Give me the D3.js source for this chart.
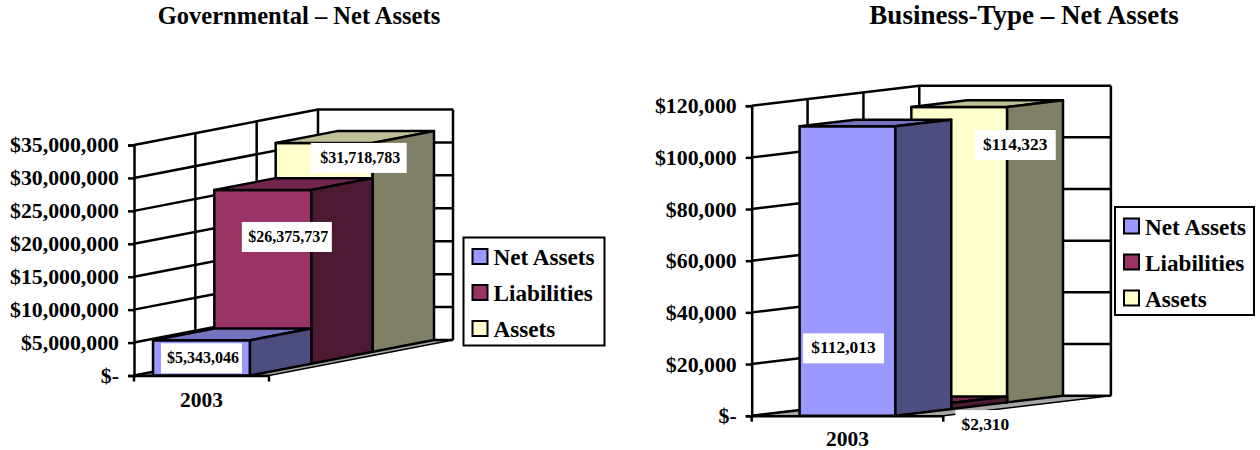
<!DOCTYPE html>
<html lang="en">
<head>
    <meta charset="UTF-8">
    <title>Net Assets</title>
    <script src="https://d3js.org/d3.v7.min.js"></script>
    <style>
        html, body { margin: 0; padding: 0; background: #fff; }
        svg { display: block; }
        text { font-family: "Liberation Serif", serif; font-weight: bold; fill: #000; }
    </style>
</head>
<body>
    <div class="chart-container"></div>
</body>
<script>
    const categories = ['2003']
    const seriesNames = ['Net Assets', 'Liabilities', 'Assets']
    const governmentalValues = [5343046, 26375737, 31718783]
    const businessValues = [112013, 2310, 114323]
    const governmentalTicks = [0, 5000000, 10000000, 15000000, 20000000, 25000000, 30000000, 35000000]
    const businessTicks = [0, 20000, 40000, 60000, 80000, 100000, 120000]

    const frontColors = ['#9999ff', '#993366', '#ffffcc']
    const topColors = ['#7373bf', '#73264d', '#bfbf99']
    const sideColors = ['#4d4d80', '#4d1a33', '#808066']

    const money = d => d === 0 ? '$-' : '$' + d3.format(',')(d)

    const svg = d3.select('.chart-container')
        .append('svg')
        .attr('width', 1260)
        .attr('height', 450)

    function poly(g, points, fill, width = 2.5) {
        g.append('path')
            .attr('d', d3.line()(points) + 'Z')
            .attr('fill', fill)
            .attr('stroke', '#000')
            .attr('stroke-width', width)
            .attr('stroke-linejoin', 'round')
    }

    function drawChart(c) {
        const g = svg.append('g')
        const y = d3.scaleLinear().domain(c.domain).range([c.y0, c.yTop])
        const x = d3.scaleBand().domain(categories).range([c.x0, c.x0 + c.plotW]).paddingInner(0).paddingOuter(c.pad)
        const depth = d3.scaleBand().domain(seriesNames).range([0, 1])
        // front plane (x, y) pushed back along the depth direction
        const at = (px, py, d) => [px + d * c.depthX, py - d * c.depthY]

        g.append('text')
            .attr('x', c.titleX).attr('y', 24)
            .attr('text-anchor', 'middle')
            .attr('font-size', c.titleSize)
            .text(c.title)

        const x1 = c.x0 + c.plotW
        // floor
        poly(g, [at(c.x0, c.y0, 0), at(x1, c.y0, 0), at(x1, c.y0, 1), at(c.x0, c.y0, 1)], '#a6a6a6', 1.5)

        // walls and grid lines
        c.ticks.forEach(t => {
            g.append('path')
                .attr('d', d3.line()([at(c.x0, y(t), 0), at(c.x0, y(t), 1), at(x1, y(t), 1)]))
                .attr('fill', 'none').attr('stroke', '#000').attr('stroke-width', 2.5)
        })
        ;[1 / 3, 2 / 3, 1].forEach(d => {
            g.append('path')
                .attr('d', d3.line()([at(c.x0, c.y0, d), at(c.x0, y(c.domain[1]), d)]))
                .attr('stroke', '#000').attr('stroke-width', 2.5)
        })
        g.append('path')
            .attr('d', d3.line()([at(x1, c.y0, 1), at(x1, y(c.domain[1]), 1)]))
            .attr('stroke', '#000').attr('stroke-width', 2.5)

        // bars, back to front
        const order = d3.range(seriesNames.length).reverse()
        order.forEach(i => {
            const d0 = depth(seriesNames[i])
            const d1 = d0 + depth.bandwidth()
            const left = x(categories[0])
            const right = left + x.bandwidth()
            const top = y(c.values[i])
            poly(g, [at(left, c.y0, d0), at(right, c.y0, d0), at(right, top, d0), at(left, top, d0)], frontColors[i])
            poly(g, [at(left, top, d0), at(right, top, d0), at(right, top, d1), at(left, top, d1)], topColors[i])
            poly(g, [at(right, c.y0, d0), at(right, c.y0, d1), at(right, top, d1), at(right, top, d0)], sideColors[i])
        })

        // value labels on white boxes, placed relative to each bar's top
        seriesNames.forEach((name, i) => {
            const d0 = depth(name)
            const [cx, cy] = at(x(categories[0]) + x.bandwidth() / 2, y(c.values[i]), d0)
            const lx = cx + c.labelOffsets[i][0]
            const ly = cy + c.labelOffsets[i][1]
            const w = c.labelWidths[i]
            g.append('rect')
                .attr('x', lx - w / 2).attr('y', ly - 15)
                .attr('width', w).attr('height', 30)
                .attr('fill', '#fff')
            g.append('text')
                .attr('x', lx + c.labelShift).attr('y', ly + 5)
                .attr('text-anchor', 'middle')
                .attr('font-size', c.labelSize)
                .text(money(c.values[i]))
        })

        // axes
        const axisLeft = d3.axisLeft(y).tickValues(c.ticks).tickFormat(money).tickSize(6).tickPadding(9)
        const yAxis = g.append('g').attr('transform', `translate(${c.x0},0)`).call(axisLeft)
        yAxis.selectAll('path,line').attr('stroke', '#000').attr('stroke-width', 2.5)
        yAxis.selectAll('text').attr('font-size', 21.8).attr('font-family', null).attr('fill', null)

        const axisBottom = d3.axisBottom(x).tickSize(0).tickPadding(c.xLabelPad)
        const xAxis = g.append('g').attr('transform', `translate(0,${c.y0})`).call(axisBottom)
        xAxis.select('.domain').attr('stroke', '#000').attr('stroke-width', 2.5)
        xAxis.selectAll('text').attr('font-size', 21.5).attr('font-family', null).attr('fill', null)
        x.range().forEach(px => {
            xAxis.append('line').attr('x1', px).attr('x2', px).attr('y1', 0).attr('y2', 6)
                .attr('stroke', '#000').attr('stroke-width', 2.5)
        })

        // legend
        const lg = g.append('g').attr('transform', `translate(${c.legend.x},${c.legend.y})`)
        lg.append('rect')
            .attr('width', c.legend.w).attr('height', c.legend.h)
            .attr('fill', '#fff').attr('stroke', '#000').attr('stroke-width', 2)
        seriesNames.forEach((name, i) => {
            lg.append('rect')
                .attr('x', 9).attr('y', 11.5 + i * 36)
                .attr('width', 15).attr('height', 15)
                .attr('fill', frontColors[i]).attr('stroke', '#000').attr('stroke-width', 2)
            lg.append('text')
                .attr('x', 30).attr('y', 27.5 + i * 36)
                .attr('font-size', 23.2)
                .text(name)
        })
    }

    drawChart({
        title: 'Governmental – Net Assets', titleX: 299, titleSize: 24.5,
        values: governmentalValues, ticks: governmentalTicks, domain: [0, 35000000],
        x0: 134, plotW: 135, y0: 375.5, yTop: 145, depthX: 184, depthY: 35.5, pad: 0.196,
        xLabelPad: 16, labelSize: 16, labelShift: 1.5,
        labelOffsets: [[0, 18], [24, 47], [34.5, 15]],
        labelWidths: [81, 90, 96],
        legend: { x: 463.5, y: 237.5, w: 141, h: 108 }
    })
    drawChart({
        title: 'Business-Type – Net Assets', titleX: 1024, titleSize: 27,
        values: businessValues, ticks: businessTicks, domain: [0, 120000],
        x0: 751.7, plotW: 191.6, y0: 415.7, yTop: 105.7, depthX: 167.6, depthY: 20, pad: 0.5,
        xLabelPad: 15, labelSize: 17.4, labelShift: 0,
        labelOffsets: [[-4, 222], [82, 22], [56, 38]],
        labelWidths: [81, 60, 81],
        legend: { x: 1115, y: 207, w: 139, h: 108 }
    })
</script>
</html>
